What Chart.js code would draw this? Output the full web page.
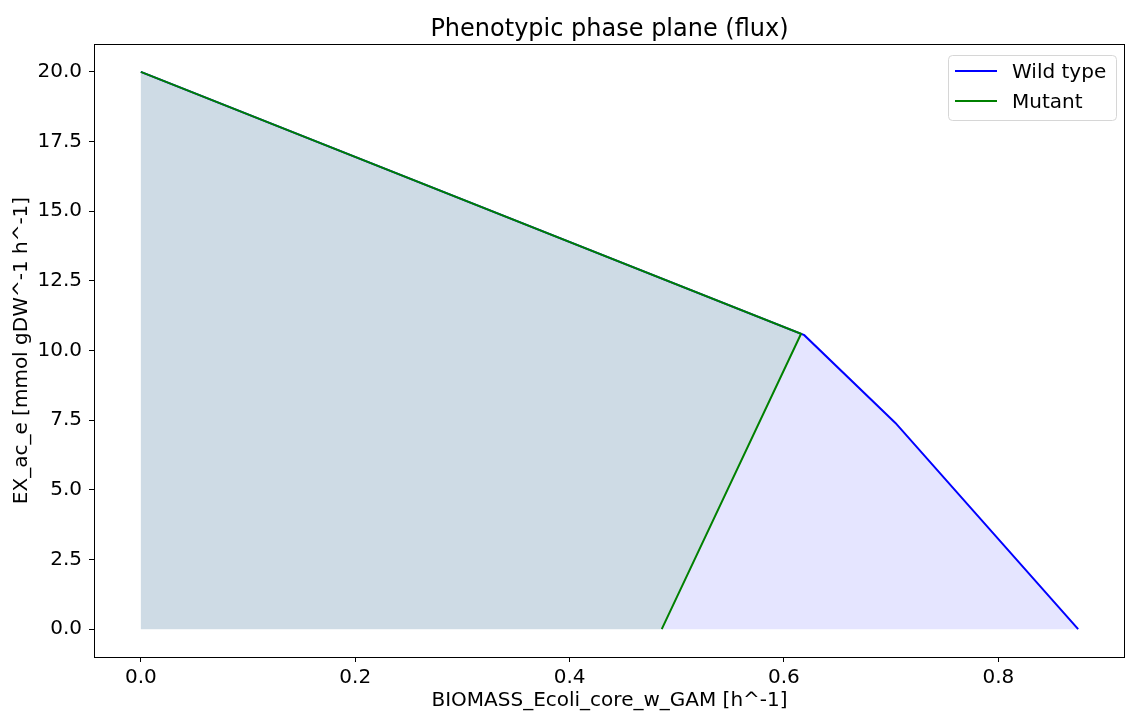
<!DOCTYPE html>
<html>
<head>
<meta charset="utf-8">
<script src="https://cdn.jsdelivr.net/npm/chart.js@4"></script>
<style>
  html, body { margin: 0; padding: 0; background: #fff; }
  #wrap { width: 1127px; height: 713px; }
</style>
</head>
<body>
<div id="wrap"><canvas id="ppp" width="1127" height="713"></canvas></div>
<script>
// envelope vertices: biomass flux (x) vs acetate exchange (y)
const wildX = [0, 0.619, 0.704, 0.8745];
const wildY = [20, 10.55, 7.40, 0];
const mutantX = [0, 0.616, 0.486];
const mutantY = [20, 10.60, 0];

const seriesNames = ["Wild type", "Mutant"];
const xRange = [-0.0437, 0.9182];
const yRange = [-1.0, 21.0];

const FONT = "'DejaVu Sans', sans-serif";

const toPoints = (xs, ys) => xs.map((x, i) => ({ x: x, y: ys[i] }));

// shade each envelope down to the zero line, frame and legend on top
const envelopeFill = {
  id: "envelopeFill",
  beforeDatasetsDraw(chart) {
    const c = chart.ctx;
    const xs = chart.scales.x;
    const ys = chart.scales.y;
    c.save();
    chart.data.datasets.forEach((ds) => {
      const pts = ds.data;
      c.beginPath();
      pts.forEach((p, i) => {
        const px = xs.getPixelForValue(p.x);
        const py = ys.getPixelForValue(p.y);
        if (i === 0) c.moveTo(px, py);
        else c.lineTo(px, py);
      });
      c.lineTo(xs.getPixelForValue(pts[pts.length - 1].x), ys.getPixelForValue(0));
      c.lineTo(xs.getPixelForValue(pts[0].x), ys.getPixelForValue(0));
      c.closePath();
      c.fillStyle = ds.backgroundColor;
      c.fill();
    });
    c.restore();
  },
  afterDraw(chart) {
    const c = chart.ctx;
    const a = chart.chartArea;
    c.save();
    c.strokeStyle = "#000";
    c.lineWidth = 1;
    c.strokeRect(Math.round(a.left) + 0.5, Math.round(a.top) + 0.5,
      Math.round(a.right - a.left) - 1, Math.round(a.bottom - a.top));

    const bx = 948, by = 55, bw = 168, bh = 65;
    c.beginPath();
    c.roundRect(bx + 0.5, by + 0.5, bw, bh, 4);
    c.fillStyle = "rgba(255,255,255,0.8)";
    c.fill();
    c.strokeStyle = "#d6d6d6";
    c.stroke();
    c.font = "20px " + FONT;
    c.textBaseline = "middle";
    c.fillStyle = "#000";
    chart.data.datasets.forEach((ds, i) => {
      const ry = 71 + i * 30;
      c.beginPath();
      c.moveTo(955, ry);
      c.lineTo(997, ry);
      c.strokeStyle = ds.borderColor;
      c.lineWidth = 2;
      c.stroke();
      c.fillText(ds.label, 1012, ry + 1.5);
    });
    c.restore();
  },
};

const ctx = document.getElementById("ppp").getContext("2d");
new Chart(ctx, {
  type: "scatter",
  data: {
    datasets: [
      {
        label: seriesNames[0],
        data: toPoints(wildX, wildY),
        showLine: true,
        borderColor: "#0000ff",
        backgroundColor: "rgba(0,0,255,0.1)",
        borderWidth: 2,
        pointRadius: 0,
        fill: false,
        order: 2,
      },
      {
        label: seriesNames[1],
        data: toPoints(mutantX, mutantY),
        showLine: true,
        borderColor: "#008000",
        backgroundColor: "rgba(0,128,0,0.1)",
        borderWidth: 2,
        pointRadius: 0,
        fill: false,
        order: 1,
      },
    ],
  },
  options: {
    responsive: false,
    animation: false,
    layout: { padding: { left: 0, right: 2, top: 0, bottom: 0 } },
    plugins: {
      legend: { display: false },
      tooltip: { enabled: false },
      title: {
        display: true,
        fullSize: false,
        text: "Phenotypic phase plane (flux)",
        color: "#000",
        font: { family: FONT, size: 24, weight: "normal" },
        padding: { top: 15, bottom: 0.2 },
      },
    },
    scales: {
      x: {
        type: "linear",
        min: xRange[0],
        max: xRange[1],
        border: { display: false },
        grid: { drawOnChartArea: false, drawTicks: true, tickLength: 5, color: "#000" },
        ticks: {
          stepSize: 0.2,
          includeBounds: false,
          color: "#000",
          padding: 4,
          maxRotation: 0,
          font: { family: FONT, size: 20 },
          callback: (v) => v.toFixed(1),
        },
        title: {
          display: true,
          text: "BIOMASS_Ecoli_core_w_GAM [h^-1]",
          color: "#000",
          font: { family: FONT, size: 20 },
          padding: { top: 2, bottom: 0 },
        },
        afterFit(scale) { scale.height = 56; },
      },
      y: {
        type: "linear",
        min: yRange[0],
        max: yRange[1],
        border: { display: false },
        grid: { drawOnChartArea: false, drawTicks: true, tickLength: 5, color: "#000" },
        ticks: {
          stepSize: 2.5,
          includeBounds: false,
          color: "#000",
          padding: 7,
          font: { family: FONT, size: 20 },
          callback: (v) => v.toFixed(1),
        },
        title: {
          display: true,
          text: "EX_ac_e [mmol gDW^-1 h^-1]",
          color: "#000",
          font: { family: FONT, size: 20 },
          padding: { top: 10, bottom: 0 },
        },
        afterFit(scale) { scale.width = 94; },
      },
    },
  },
  plugins: [envelopeFill],
});
</script>
</body>
</html>
